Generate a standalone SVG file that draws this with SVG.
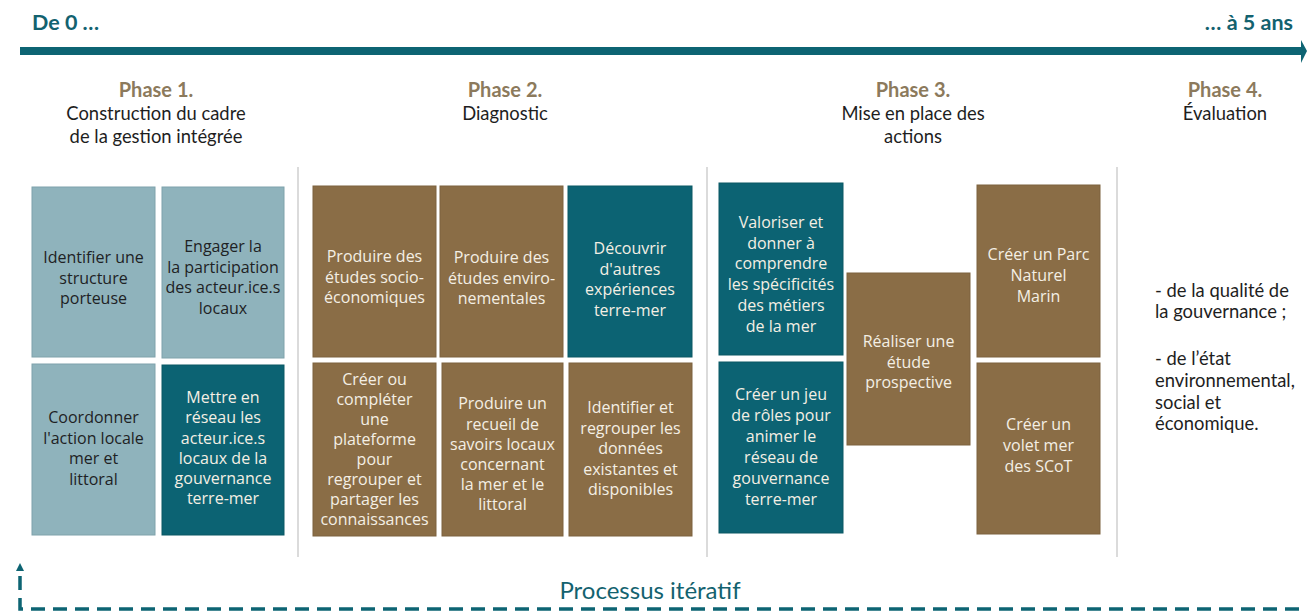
<svg xmlns="http://www.w3.org/2000/svg" width="1307" height="613" viewBox="0 0 1307 613">
<style>
.bg{fill:#ffffff}
.lt{fill:#8fb3bc;stroke:#7fa2ab;stroke-width:1}
.dk{fill:#0c6373;stroke:#0a5865;stroke-width:1}
.br{fill:#8a6d46;stroke:#7d623e;stroke-width:1}
.t{font-family:"Open Sans","Noto Sans",sans-serif;font-size:16px;text-anchor:middle}
.tl{fill:#1e2224}
.tw{fill:#f4efe4}
.ph{font-family:Lato,"Liberation Sans",sans-serif;font-weight:bold;font-size:20px;fill:#8c7a5c;text-anchor:middle}
.pd{font-family:Lato,"Liberation Sans",sans-serif;font-size:18.4px;fill:#1e1e1e;text-anchor:middle}
.p4{font-family:Lato,"Liberation Sans",sans-serif;font-size:18.4px;fill:#1e1e1e}
.tm{font-family:Lato,"Liberation Sans",sans-serif;font-weight:bold;font-size:21.5px;fill:#13626f}
.div{stroke:#cfcfcf;stroke-width:1.5}
</style>
<rect class="bg" width="1307" height="613"/>

<g id="timeline">
  <line x1="20" y1="51" x2="1302" y2="51" stroke="#0d6473" stroke-width="8"/>
  <polygon points="1301,40 1307,51 1301,63" fill="#0d6473"/>
  <text class="tm" x="32" y="30">De 0 …</text>
  <text class="tm" x="1293" y="30" text-anchor="end">… à 5 ans</text>
</g>

<g id="phase1-header">
  <text class="ph" x="156" y="97">Phase 1.</text>
  <text class="pd" x="156" y="120">Construction du cadre</text>
  <text class="pd" x="156" y="143">de la gestion intégrée</text>
</g>
<g id="phase2-header">
  <text class="ph" x="505" y="97">Phase 2.</text>
  <text class="pd" x="505" y="120">Diagnostic</text>
</g>
<g id="phase3-header">
  <text class="ph" x="913" y="97">Phase 3.</text>
  <text class="pd" x="913" y="120">Mise en place des</text>
  <text class="pd" x="913" y="143">actions</text>
</g>
<g id="phase4-header">
  <text class="ph" x="1225" y="97">Phase 4.</text>
  <text class="pd" x="1225" y="120">Évaluation</text>
</g>

<g id="dividers">
  <line class="div" x1="298" y1="167" x2="298" y2="557"/>
  <line class="div" x1="707" y1="167" x2="707" y2="557"/>
  <line class="div" x1="1117" y1="167" x2="1117" y2="557"/>
</g>

<g id="p1-identifier">
  <rect class="lt" x="32" y="187" width="123" height="170"/>
  <text class="t tl" x="93.5" y="263">Identifier une</text>
  <text class="t tl" x="93.5" y="283.5">structure</text>
  <text class="t tl" x="93.5" y="304">porteuse</text>
</g>
<g id="p1-engager">
  <rect class="lt" x="162" y="187" width="122" height="171"/>
  <text class="t tl" x="223" y="252">Engager la</text>
  <text class="t tl" x="223" y="272.5">la participation</text>
  <text class="t tl" x="223" y="293">des acteur.ice.s</text>
  <text class="t tl" x="223" y="313.5">locaux</text>
</g>
<g id="p1-coordonner">
  <rect class="lt" x="32" y="364" width="123" height="171"/>
  <text class="t tl" x="93.5" y="423">Coordonner</text>
  <text class="t tl" x="93.5" y="443.5">l'action locale</text>
  <text class="t tl" x="93.5" y="464">mer et</text>
  <text class="t tl" x="93.5" y="484.5">littoral</text>
</g>
<g id="p1-reseau">
  <rect class="dk" x="162" y="365" width="122" height="170"/>
  <text class="t tw" x="223" y="403">Mettre en</text>
  <text class="t tw" x="223" y="423">réseau les</text>
  <text class="t tw" x="223" y="443.5">acteur.ice.s</text>
  <text class="t tw" x="223" y="464">locaux de la</text>
  <text class="t tw" x="223" y="484">gouvernance</text>
  <text class="t tw" x="223" y="504">terre-mer</text>
</g>

<g id="p2-socio">
  <rect class="br" x="313" y="186" width="123" height="171"/>
  <text class="t tw" x="374.5" y="262">Produire des</text>
  <text class="t tw" x="374.5" y="282.5">études socio-</text>
  <text class="t tw" x="374.5" y="303">économiques</text>
</g>
<g id="p2-enviro">
  <rect class="br" x="440" y="186" width="123" height="171"/>
  <text class="t tw" x="501.5" y="263">Produire des</text>
  <text class="t tw" x="501.5" y="283.5">études enviro-</text>
  <text class="t tw" x="501.5" y="304">nementales</text>
</g>
<g id="p2-decouvrir">
  <rect class="dk" x="568" y="186" width="124" height="171"/>
  <text class="t tw" x="630" y="254">Découvrir</text>
  <text class="t tw" x="630" y="274.5">d'autres</text>
  <text class="t tw" x="630" y="295">expériences</text>
  <text class="t tw" x="630" y="315.5">terre-mer</text>
</g>
<g id="p2-plateforme">
  <rect class="br" x="313" y="363" width="123" height="173"/>
  <text class="t tw" x="374.5" y="385">Créer ou</text>
  <text class="t tw" x="374.5" y="405">compléter</text>
  <text class="t tw" x="374.5" y="425">une</text>
  <text class="t tw" x="374.5" y="445">plateforme</text>
  <text class="t tw" x="374.5" y="465">pour</text>
  <text class="t tw" x="374.5" y="485">regrouper et</text>
  <text class="t tw" x="374.5" y="505">partager les</text>
  <text class="t tw" x="374.5" y="525">connaissances</text>
</g>
<g id="p2-recueil">
  <rect class="br" x="442" y="363" width="121" height="173"/>
  <text class="t tw" x="502.5" y="409">Produire un</text>
  <text class="t tw" x="502.5" y="429.5">recueil de</text>
  <text class="t tw" x="502.5" y="450">savoirs locaux</text>
  <text class="t tw" x="502.5" y="470">concernant</text>
  <text class="t tw" x="502.5" y="490">la mer et le</text>
  <text class="t tw" x="502.5" y="510">littoral</text>
</g>
<g id="p2-donnees">
  <rect class="br" x="569" y="363" width="123" height="173"/>
  <text class="t tw" x="630.5" y="413">Identifier et</text>
  <text class="t tw" x="630.5" y="433.5">regrouper les</text>
  <text class="t tw" x="630.5" y="454">données</text>
  <text class="t tw" x="630.5" y="474.5">existantes et</text>
  <text class="t tw" x="630.5" y="495">disponibles</text>
</g>

<g id="p3-valoriser">
  <rect class="dk" x="719" y="183" width="124" height="172"/>
  <text class="t tw" x="781" y="228">Valoriser et</text>
  <text class="t tw" x="781" y="248.5">donner à</text>
  <text class="t tw" x="781" y="269">comprendre</text>
  <text class="t tw" x="781" y="290">les spécificités</text>
  <text class="t tw" x="781" y="311">des métiers</text>
  <text class="t tw" x="781" y="332">de la mer</text>
</g>
<g id="p3-jeu">
  <rect class="dk" x="719" y="362" width="124" height="171"/>
  <text class="t tw" x="781" y="400">Créer un jeu</text>
  <text class="t tw" x="781" y="421">de rôles pour</text>
  <text class="t tw" x="781" y="442">animer le</text>
  <text class="t tw" x="781" y="463">réseau de</text>
  <text class="t tw" x="781" y="484">gouvernance</text>
  <text class="t tw" x="781" y="505">terre-mer</text>
</g>
<g id="p3-prospective">
  <rect class="br" x="847" y="273" width="123" height="172"/>
  <text class="t tw" x="908.5" y="347">Réaliser une</text>
  <text class="t tw" x="908.5" y="367.5">étude</text>
  <text class="t tw" x="908.5" y="388">prospective</text>
</g>
<g id="p3-parc">
  <rect class="br" x="977" y="185" width="123" height="172"/>
  <text class="t tw" x="1038.5" y="260">Créer un Parc</text>
  <text class="t tw" x="1038.5" y="281">Naturel</text>
  <text class="t tw" x="1038.5" y="302">Marin</text>
</g>
<g id="p3-scot">
  <rect class="br" x="977" y="363" width="123" height="171"/>
  <text class="t tw" x="1038.5" y="430">Créer un</text>
  <text class="t tw" x="1038.5" y="451">volet mer</text>
  <text class="t tw" x="1038.5" y="472">des SCoT</text>
</g>

<g id="p4-evaluation">
  <text class="p4" x="1155" y="297">- de la qualité de</text>
  <text class="p4" x="1155" y="318">la gouvernance ;</text>
  <text class="p4" x="1155" y="365">- de l’état</text>
  <text class="p4" x="1155" y="387">environnemental,</text>
  <text class="p4" x="1155" y="408.5">social et</text>
  <text class="p4" x="1155" y="430">économique.</text>
</g>

<g id="connectors">
  <path d="M20,576 V609 H1307" fill="none" stroke="#0d6473" stroke-width="3.5" stroke-dasharray="14 8"/>
  <polygon points="16,571 20,563 24,571" fill="#0d6473"/>
</g>
<g id="iteratif-label">
  <text x="650" y="599" font-family="Lato,'Liberation Sans',sans-serif" font-size="24px" fill="#13626f" text-anchor="middle">Processus itératif</text>
</g>
</svg>
